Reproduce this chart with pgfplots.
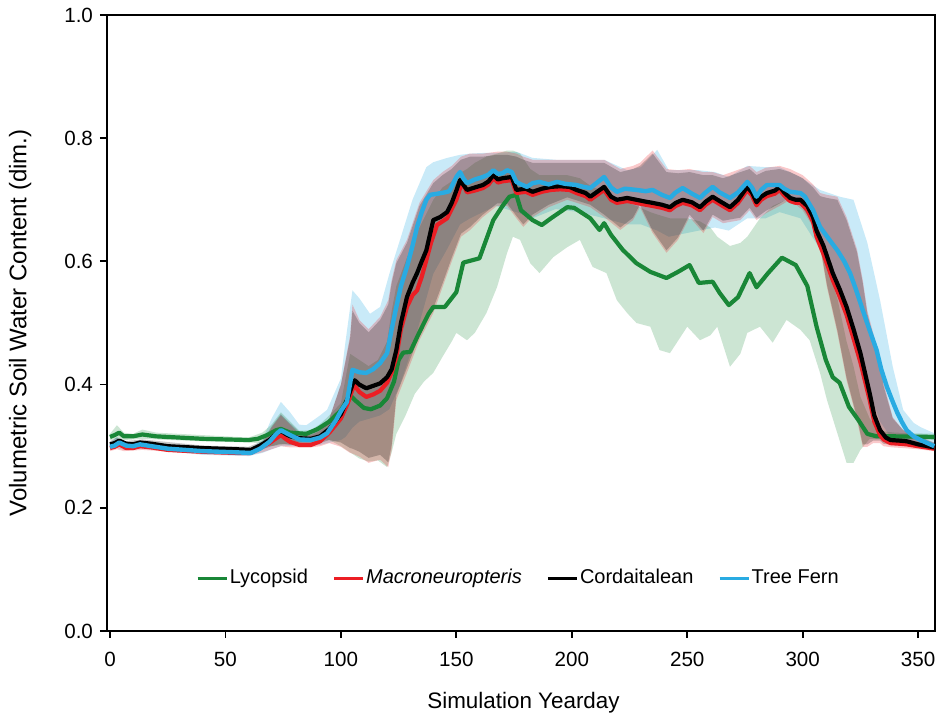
\documentclass[border=0pt]{standalone}
\usepackage{fontspec}
\setmainfont{Liberation Sans}
\usepackage{pgfplots}
\usepackage{pgfplotstable}
\usepgfplotslibrary{fillbetween}
\pgfplotsset{compat=1.18}
\definecolor{lgreen}{RGB}{25,135,55}
\definecolor{lred}{RGB}{236,30,36}
\definecolor{lblue}{RGB}{41,171,226}

\pgfplotstableread{
d lo hi
0 0.310 0.320
3 0.312 0.334
6 0.310 0.322
10 0.311 0.320
14 0.312 0.327
20 0.311 0.322
40 0.308 0.318
60 0.306 0.314
66 0.305 0.322
70 0.300 0.335
74 0.302 0.355
78 0.305 0.340
82 0.306 0.325
87 0.310 0.326
91 0.312 0.336
95 0.310 0.350
100 0.300 0.370
104 0.290 0.450
108 0.280 0.440
112 0.275 0.430
116 0.277 0.440
120 0.266 0.470
122 0.290 0.520
124 0.320 0.560
128 0.350 0.600
132 0.385 0.640
136 0.405 0.670
140 0.419 0.700
144 0.445 0.720
148 0.470 0.730
150 0.484 0.740
154.6 0.472 0.750
158 0.484 0.760
163 0.516 0.770
167.6 0.558 0.775
172 0.614 0.780
174.5 0.640 0.780
177.6 0.635 0.775
182 0.597 0.750
186 0.581 0.740
192 0.607 0.740
198 0.623 0.740
203.5 0.635 0.735
209 0.591 0.720
215 0.581 0.715
219.5 0.537 0.700
224 0.516 0.695
228 0.500 0.690
234 0.494 0.680
238 0.456 0.675
242.5 0.451 0.670
250 0.494 0.670
255.5 0.472 0.665
260 0.480 0.655
263 0.494 0.640
268.5 0.429 0.625
273 0.450 0.630
276 0.484 0.640
281.5 0.494 0.670
287 0.468 0.690
293 0.505 0.700
299 0.489 0.700
303 0.472 0.680
307.5 0.419 0.640
310.5 0.375 0.590
315 0.321 0.540
319 0.273 0.470
322 0.273 0.430
325 0.294 0.380
329 0.312 0.345
333 0.312 0.325
340 0.311 0.322
357 0.310 0.320
}\gband

\pgfplotstableread{
d rlo rhi klo khi
0 0.292 0.302 0.298 0.308
3 0.295 0.310 0.300 0.314
6 0.292 0.302 0.298 0.308
14 0.294 0.306 0.300 0.311
40 0.287 0.296 0.292 0.301
60 0.285 0.293 0.290 0.299
66 0.290 0.305 0.295 0.308
70 0.295 0.330 0.300 0.332
74 0.300 0.350 0.304 0.352
78 0.298 0.335 0.302 0.337
82 0.298 0.320 0.302 0.323
87 0.298 0.318 0.302 0.321
91 0.300 0.325 0.305 0.328
95 0.305 0.345 0.310 0.345
100 0.299 0.400 0.306 0.400
104 0.289 0.480 0.297 0.475
105 0.288 0.530 0.296 0.520
108 0.283 0.505 0.291 0.500
112 0.273 0.490 0.281 0.485
117 0.278 0.510 0.286 0.505
120.5 0.266 0.537 0.274 0.530
122 0.294 0.570 0.302 0.565
124 0.375 0.602 0.383 0.597
128.6 0.419 0.635 0.427 0.630
134 0.472 0.695 0.480 0.690
140 0.516 0.732 0.524 0.727
144 0.558 0.745 0.564 0.740
148 0.600 0.755 0.606 0.750
152 0.640 0.770 0.645 0.765
156 0.651 0.775 0.656 0.770
161.5 0.672 0.775 0.676 0.770
167.6 0.690 0.778 0.694 0.773
172 0.690 0.778 0.694 0.773
176 0.670 0.775 0.674 0.770
179 0.656 0.770 0.660 0.765
183 0.672 0.765 0.676 0.760
190 0.688 0.765 0.692 0.760
198 0.700 0.765 0.704 0.760
208 0.688 0.765 0.692 0.760
214 0.672 0.765 0.676 0.760
221 0.651 0.750 0.655 0.745
226.5 0.667 0.755 0.671 0.750
229.5 0.688 0.760 0.692 0.755
235 0.646 0.780 0.650 0.775
241 0.614 0.750 0.618 0.745
246 0.635 0.748 0.639 0.743
251 0.672 0.750 0.676 0.745
257 0.646 0.745 0.650 0.740
261 0.672 0.745 0.676 0.740
265.5 0.662 0.740 0.666 0.735
273 0.667 0.750 0.671 0.745
277 0.683 0.755 0.687 0.750
280 0.667 0.745 0.671 0.740
284 0.678 0.752 0.682 0.747
290 0.690 0.755 0.694 0.750
294.5 0.700 0.750 0.704 0.745
300 0.683 0.740 0.687 0.735
304.5 0.656 0.725 0.660 0.720
307.5 0.623 0.711 0.627 0.706
310.5 0.558 0.708 0.562 0.703
315 0.484 0.705 0.488 0.700
319 0.407 0.672 0.411 0.667
323.5 0.343 0.620 0.347 0.615
326 0.299 0.570 0.303 0.565
328 0.299 0.520 0.303 0.515
330.5 0.305 0.484 0.309 0.479
333.5 0.305 0.440 0.309 0.435
335 0.300 0.403 0.304 0.398
339 0.298 0.347 0.302 0.345
343.5 0.297 0.326 0.301 0.326
350 0.295 0.315 0.299 0.316
357 0.292 0.305 0.296 0.306
}\rkband

\pgfplotstableread{
d lo hi
0 0.295 0.305
3 0.297 0.315
6 0.294 0.305
14 0.296 0.308
40 0.286 0.297
60 0.284 0.294
66 0.289 0.310
70 0.295 0.345
74 0.300 0.372
78 0.300 0.355
82 0.300 0.335
85 0.300 0.334
91 0.302 0.350
94 0.305 0.359
100 0.310 0.410
102 0.315 0.470
105 0.330 0.553
108 0.340 0.540
112.6 0.345 0.515
117 0.350 0.526
121 0.360 0.580
125.6 0.400 0.635
131 0.460 0.700
137 0.540 0.753
140 0.580 0.761
146 0.620 0.768
151.6 0.660 0.773
156 0.670 0.775
161.5 0.680 0.776
167 0.690 0.776
176 0.680 0.778
183 0.670 0.768
193 0.685 0.765
203 0.680 0.765
214 0.670 0.765
224 0.660 0.748
230 0.660 0.753
237 0.650 0.781
242 0.640 0.748
255 0.650 0.748
262 0.655 0.745
268 0.650 0.737
276 0.670 0.755
284 0.670 0.753
290 0.680 0.753
299 0.670 0.737
307.5 0.620 0.716
316 0.550 0.705
322 0.490 0.700
328 0.400 0.630
333.5 0.340 0.537
339 0.310 0.429
343.5 0.305 0.359
348 0.302 0.338
351 0.300 0.331
357 0.296 0.321
}\bband

\pgfplotstableread{
d v
0 0.315
2 0.318
4 0.322
6 0.316
10 0.316
14 0.319
20 0.316
30 0.314
40 0.312
50 0.311
60 0.310
64 0.312
68 0.318
72 0.326
74 0.328
78 0.322
85 0.320
90 0.328
95 0.340
100 0.358
104 0.383
106 0.375
110 0.362
113 0.360
117 0.366
120 0.378
123 0.405
125 0.440
127 0.452
130 0.453
134 0.485
138 0.515
140 0.526
145 0.526
150 0.550
153 0.598
160 0.605
166 0.667
170 0.690
173 0.705
176 0.708
178 0.683
183 0.667
187 0.659
191 0.670
198 0.688
201 0.687
208 0.670
212 0.651
214 0.662
217 0.643
222 0.619
228 0.597
234 0.583
241 0.573
246 0.583
251 0.594
255 0.565
261 0.567
264 0.549
268 0.529
272 0.542
277 0.581
280 0.558
285 0.581
291 0.606
297 0.594
302 0.560
306 0.494
310 0.440
313 0.412
316 0.403
320 0.364
324 0.343
328 0.320
332 0.316
340 0.316
357 0.315
}\lyc

\pgfplotstableread{
d v
0 0.297
2 0.299
4 0.303
7 0.297
10 0.297
13 0.300
18 0.298
25 0.294
40 0.291
55 0.289
61 0.289
65 0.297
69 0.305
72 0.313
74 0.318
76 0.312
78 0.307
82 0.302
87 0.302
91 0.308
95 0.322
100 0.345
103 0.370
105 0.392
106 0.398
108 0.388
111 0.380
114 0.384
117 0.390
120 0.403
122 0.420
124 0.445
126 0.490
128.6 0.526
131 0.545
133 0.553
135 0.575
137 0.602
139 0.630
141.6 0.659
144 0.665
146 0.670
148 0.685
150 0.700
152.5 0.729
154.6 0.712
158 0.715
161.5 0.719
164 0.725
166 0.735
168 0.728
170 0.730
174 0.732
176 0.711
180 0.713
183 0.708
187 0.713
191 0.716
195 0.717
199 0.716
202 0.711
206 0.706
208 0.700
211 0.708
214 0.716
217 0.700
219.5 0.695
224 0.698
228 0.695
232 0.692
235 0.690
239 0.687
242.5 0.683
245 0.690
248 0.695
252 0.691
255.5 0.683
258 0.692
261 0.700
264 0.693
268.5 0.683
272 0.695
276 0.716
278 0.707
280 0.691
282 0.700
284.5 0.706
288 0.710
290 0.716
292 0.707
294.5 0.698
297 0.695
299 0.695
302 0.684
304.5 0.664
306 0.640
309 0.612
313 0.570
316 0.543
319 0.513
322 0.475
325 0.436
329 0.375
331 0.340
333.5 0.318
335 0.311
338 0.305
342 0.304
345 0.303
350 0.300
357 0.296
}\mac

\pgfplotstableread{
d v
0 0.303
2 0.305
4 0.309
7 0.304
10 0.303
13 0.306
18 0.304
25 0.300
40 0.297
55 0.295
61 0.294
65 0.301
69 0.310
72 0.320
74 0.325
76 0.320
78 0.316
82 0.313
87 0.312
91 0.316
95 0.328
100 0.352
103 0.378
105 0.400
106 0.407
108 0.400
111 0.394
114 0.398
117 0.402
120 0.412
122 0.425
124 0.456
126 0.500
128.6 0.542
131 0.565
133 0.581
135 0.600
137 0.618
140 0.667
143 0.672
146 0.680
148 0.695
150 0.715
151.6 0.732
154.6 0.716
158 0.720
161.5 0.724
164 0.730
166 0.740
168 0.733
170 0.735
174 0.737
176 0.716
180 0.718
183 0.713
187 0.718
191 0.721
195 0.722
199 0.721
202 0.716
206 0.711
208 0.705
211 0.713
214 0.721
217 0.705
219.5 0.700
224 0.703
228 0.700
232 0.697
235 0.695
239 0.692
242.5 0.688
245 0.695
248 0.700
252 0.696
255.5 0.688
258 0.697
261 0.705
264 0.698
268.5 0.688
272 0.700
276 0.721
278 0.712
280 0.696
282 0.705
284.5 0.711
288 0.715
290 0.721
292 0.712
294.5 0.703
297 0.700
299 0.700
302 0.690
304.5 0.672
306 0.650
309 0.625
313 0.581
316 0.555
319 0.526
322 0.490
325 0.451
329 0.386
331 0.350
333.5 0.326
336 0.314
338 0.310
342 0.309
345 0.308
350 0.303
357 0.298
}\cor

\pgfplotstableread{
d v
0 0.299
2 0.301
4 0.306
7 0.301
10 0.300
13 0.303
18 0.300
25 0.296
40 0.292
55 0.290
61 0.289
65 0.296
69 0.307
72 0.320
74 0.326
76 0.322
78 0.318
82 0.311
87 0.310
91 0.314
94 0.321
98 0.343
100 0.357
102.6 0.372
105 0.424
108 0.420
111 0.419
114 0.425
117 0.435
120 0.451
122 0.490
124 0.526
126 0.560
128.6 0.591
131 0.625
133 0.656
135 0.680
137 0.700
138.6 0.708
142 0.710
145 0.712
147 0.714
150 0.737
151.6 0.745
153 0.735
154.6 0.727
158 0.733
161.5 0.737
164 0.741
166 0.748
168 0.742
170 0.743
172 0.748
174 0.745
176 0.729
178 0.725
180.6 0.721
183 0.727
186 0.729
190 0.725
193.6 0.729
197 0.726
202 0.724
205 0.721
208 0.719
211 0.728
214 0.737
217 0.720
219.5 0.713
223 0.718
228 0.716
232 0.714
235 0.716
239 0.708
242.5 0.703
245 0.712
248 0.719
252 0.710
255.5 0.703
258 0.712
261 0.721
264 0.712
268.5 0.703
272 0.712
276 0.729
278 0.720
280 0.705
282 0.716
284.5 0.724
290 0.724
292 0.718
294.5 0.713
299 0.711
301 0.705
304.5 0.683
307.5 0.656
311 0.638
315 0.618
318 0.600
320.5 0.581
323 0.555
326 0.521
329 0.488
332 0.456
334 0.425
336.5 0.396
339 0.372
341 0.354
343 0.339
345 0.326
348 0.316
351 0.310
354 0.305
357 0.300
}\fern

\begin{document}
\begin{tikzpicture}
\begin{axis}[
  scale only axis, width=414pt, height=308pt,
  xmin=-1.3, xmax=357.3, ymin=0, ymax=1,
  xtick={0,50,...,350}, ytick={0,0.2,0.4,0.6,0.8,1.0},
  y tick label style={/pgf/number format/.cd,fixed,fixed zerofill,precision=1,/tikz/.cd},
  x tick label style={yshift=-3.5pt},
  /pgf/number format/assume math mode=true,
  tick label style={font=\fontsize{10.3}{12}\selectfont},
  xlabel={Simulation Yearday},
  ylabel={Volumetric Soil Water Content (dim.)},
  every axis x label/.style={at={(axis description cs:0.503,-0.117)},anchor=center,font=\fontsize{11.2}{13}\selectfont},
  every axis y label/.style={at={(axis description cs:-0.105,0.5)},rotate=90,anchor=center,font=\fontsize{12}{14}\selectfont},
  tick align=outside, xtick pos=bottom, ytick pos=left,
  major tick length=3.5pt,
  axis line style={line width=1pt},
  every tick/.style={black, line width=0.9pt},
  legend style={at={(axis description cs:0.1,0.086)}, anchor=west, draw=none, fill=none,
    font=\fontsize{10}{11}\selectfont, legend columns=4,
    nodes={inner xsep=0.8pt},
    /tikz/every even column/.append style={column sep=11.5pt}},
  legend image code/.code={\draw[#1,line width=1.5pt] (0pt,0pt) -- (14.5pt,0pt);},
]
% bands
\addplot[name path=bH, draw=none, forget plot] table[x=d,y=hi]{\bband};
\addplot[name path=bL, draw=none, forget plot] table[x=d,y=lo]{\bband};
\addplot[fill=lblue, fill opacity=0.25, draw=none, forget plot] fill between[of=bH and bL];
\addplot[name path=gH, draw=none, forget plot] table[x=d,y=hi]{\gband};
\addplot[name path=gL, draw=none, forget plot] table[x=d,y=lo]{\gband};
\addplot[fill=lgreen, fill opacity=0.22, draw=none, forget plot] fill between[of=gH and gL];
\addplot[name path=rH, draw=none, forget plot] table[x=d,y=rhi]{\rkband};
\addplot[name path=rL, draw=none, forget plot] table[x=d,y=rlo]{\rkband};
\addplot[fill=lred, fill opacity=0.24, draw=none, forget plot] fill between[of=rH and rL];
\addplot[name path=kH, draw=none, forget plot] table[x=d,y=khi]{\rkband};
\addplot[name path=kL, draw=none, forget plot] table[x=d,y=klo]{\rkband};
\addplot[fill=black, fill opacity=0.22, draw=none, forget plot] fill between[of=kH and kL];
% means
\addplot[lgreen, line width=2.1pt, line join=round] table[x=d,y=v]{\lyc};
\addlegendentry{Lycopsid}
\addplot[lred, line width=2.1pt, line join=round] table[x=d,y=v]{\mac};
\addlegendentry{\textit{Macroneuropteris}}
\addplot[black, line width=2.1pt, line join=round] table[x=d,y=v]{\cor};
\addlegendentry{Cordaitalean}
\addplot[lblue, line width=2.2pt, line join=round] table[x=d,y=v]{\fern};
\addlegendentry{Tree Fern}
\end{axis}
\pgfresetboundingbox
\path (-53.5pt,-42.5pt) rectangle (417pt,315.5pt);
\end{tikzpicture}
\end{document}
